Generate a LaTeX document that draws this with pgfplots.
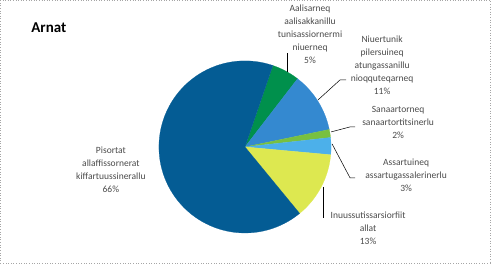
\documentclass[border=0pt]{standalone}
\usepackage{pgfplots}
\pgfplotsset{compat=1.18}
\usepackage{pgfplotstable}
\usepackage{fontspec}
\setmainfont{Carlito}
\definecolor{cPis}{HTML}{045C94}
\definecolor{cAal}{HTML}{00904C}
\definecolor{cNiu}{HTML}{3489D0}
\definecolor{cSan}{HTML}{78C040}
\definecolor{cAss}{HTML}{4CB0EA}
\definecolor{cInu}{HTML}{DDE850}
\definecolor{txt}{HTML}{4A4A4A}
% percentages, clockwise from the start angle
\pgfplotstableread{
name value
Aalisarneq 5.2
Niuertunik 11.3
Sanaartorneq 1.5
Assartuineq 3.2
Inuussutissarsiorfiit 12.6
Pisortat 66.2
}\piedata
\def\cx{245}\def\cy{117}\def\rr{86}\def\startangle{71.1}
\newcommand\slice[3]{% row, colour, running angle macro
  \pgfplotstablegetelem{#1}{value}\of\piedata
  \pgfmathsetmacro\aend{\curangle}
  \pgfmathsetmacro\astart{\curangle-3.6*\pgfplotsretval}
  \addplot[fill=#2, draw=#2, line width=0.2pt, domain=\astart:\aend, samples=80, variable=\t]
    ({\cx+\rr*cos(\t)},{\cy+\rr*sin(\t)}) -- (axis cs:\cx,\cy) -- cycle;
  \xdef\curangle{\astart}
}
\begin{document}
\begin{tikzpicture}
\begin{axis}[
  width=491pt, height=264pt, scale only axis,
  xmin=0, xmax=491, ymin=0, ymax=264,
  hide axis, clip=false,
]
\xdef\curangle{\startangle}
\slice{0}{cAal}{}
\slice{1}{cNiu}{}
\slice{2}{cSan}{}
\slice{3}{cAss}{}
\slice{4}{cInu}{}
\slice{5}{cPis}{}

% leader lines
\addplot[black, line width=0.5pt] coordinates {(287,192) (287,211)};
\addplot[black, line width=0.5pt] coordinates {(318,164) (340,184) (346,184)};
\addplot[black, line width=0.5pt] coordinates {(331,132) (350,137) (355,137)};
\addplot[black, line width=0.5pt] coordinates {(332,120) (350,86) (355,86)};
\addplot[black, line width=0.5pt] coordinates {(323,77) (323,46)};

\begin{scope}[every node/.style={align=center, text=txt, font=\fontsize{9.5}{13}\selectfont}]
\node at (axis cs:310,230) {Aalisarneq\\aalisakkanillu\\tunisassiornermi\\niuerneq\\5\%};
\node at (axis cs:382,199) {Niuertunik\\pilersuineq\\atungassanillu\\nioqquteqarneq\\11\%};
\node at (axis cs:398,141) {Sanaartorneq\\sanaartortitsinerlu\\2\%};
\node at (axis cs:406,89) {Assartuineq\\assartugassalerinerlu\\3\%};
\node at (axis cs:368,36) {Inuussutissarsiorfiit\\allat\\13\%};
\node at (axis cs:111,94) {Pisortat\\allaffissornerat\\kiffartuussinerallu\\66\%};
\end{scope}
\node[anchor=base west, font=\fontsize{15}{18}\bfseries\selectfont] at (axis cs:28,231) {Arnat};
\draw[gray!70, dotted, line width=0.6pt] (axis cs:0.5,0.5) rectangle (axis cs:490.5,263.5);
\end{axis}
\end{tikzpicture}
\end{document}
